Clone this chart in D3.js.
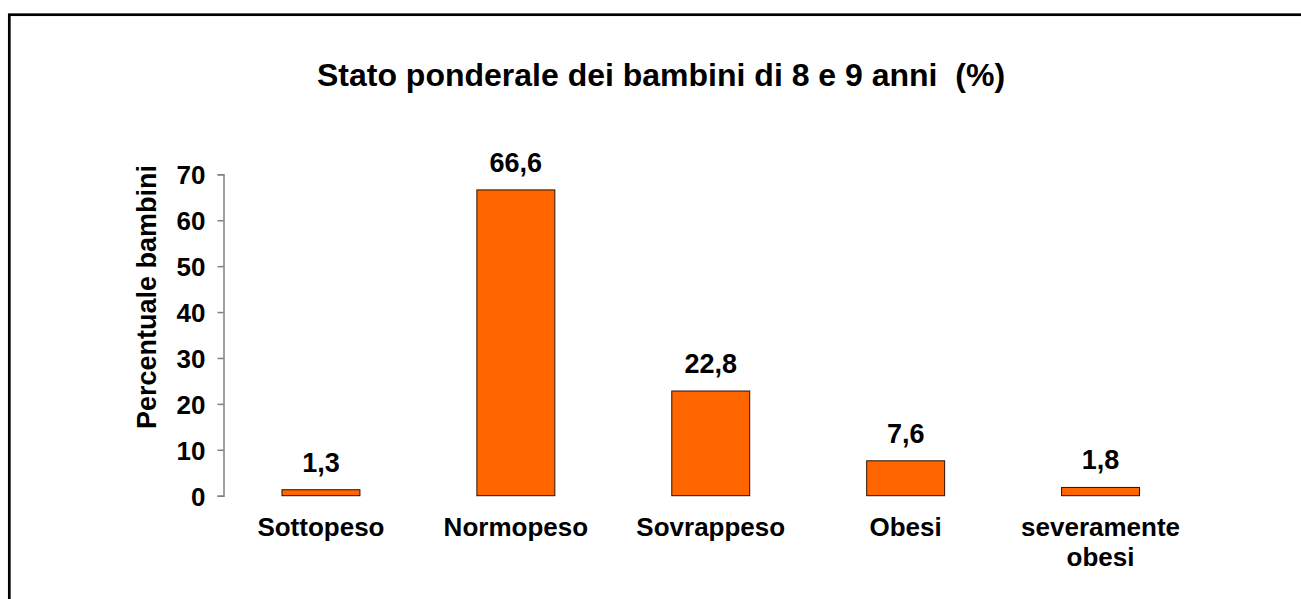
<!DOCTYPE html>
<html>
<head>
<meta charset="utf-8">
<script src="https://cdn.jsdelivr.net/npm/d3@7"></script>
<style>
  html, body { margin: 0; padding: 0; background: #fff; overflow: hidden; }
  svg { display: block; font-family: "Liberation Sans", Arial, sans-serif; }
</style>
</head>
<body>
<svg id="chart" width="1301" height="599"></svg>
<script>
const categories = ["Sottopeso", "Normopeso", "Sovrappeso", "Obesi", "severamente obesi"];
const values = [1.3, 66.6, 22.8, 7.6, 1.8];
const valueLabels = ["1,3", "66,6", "22,8", "7,6", "1,8"];
const yTicks = [0, 10, 20, 30, 40, 50, 60, 70];
const titleText = "Stato ponderale dei bambini di 8 e 9 anni  (%)";
const yAxisTitle = "Percentuale bambini";

const svg = d3.select("#chart");

// outer frame (extends beyond the visible area on right/bottom)
svg.append("rect")
  .attr("x", 9.3).attr("y", 14.7)
  .attr("width", 1400).attr("height", 700)
  .attr("fill", "none").attr("stroke", "#000").attr("stroke-width", 2.7);

const plot = { left: 223.5, right: 1198, top: 174.3, bottom: 495.7 };

const x = d3.scaleBand()
  .domain(categories)
  .range([plot.left, plot.right])
  .paddingInner(0.6)
  .paddingOuter(0.3);

const y = d3.scaleLinear().domain([0, 70]).range([plot.bottom, plot.top]);

// title
svg.append("text")
  .attr("x", 661).attr("y", 86)
  .attr("text-anchor", "middle")
  .attr("font-weight", "bold").attr("font-size", 32)
  .attr("fill", "#000")
  .attr("xml:space", "preserve")
  .style("white-space", "pre")
  .text(titleText);

// y axis
const yAxis = d3.axisLeft(y).tickValues(yTicks).tickSize(6).tickPadding(12).tickFormat(d3.format("d"));
const gy = svg.append("g").attr("transform", `translate(${plot.left},0)`).call(yAxis);
gy.select(".domain").attr("stroke", "#808080").attr("stroke-width", 1.5);
gy.selectAll(".tick line").attr("stroke", "#808080").attr("stroke-width", 1.5);
gy.selectAll(".tick text")
  .attr("font-size", 26).attr("font-weight", "bold").attr("fill", "#000")
  .attr("font-family", "Liberation Sans, Arial, sans-serif")
  .attr("dy", "0.36em");

// y axis title
svg.append("text")
  .attr("transform", `translate(156, ${(plot.top + plot.bottom) / 2 - 38}) rotate(-90)`)
  .attr("text-anchor", "middle")
  .attr("font-weight", "bold").attr("font-size", 27)
  .attr("fill", "#000")
  .text(yAxisTitle);

// bars
svg.append("g").selectAll("rect")
  .data(categories)
  .join("rect")
  .attr("x", (d) => x(d))
  .attr("width", x.bandwidth())
  .attr("y", (d, i) => y(values[i]))
  .attr("height", (d, i) => y(0) - y(values[i]))
  .attr("fill", "#FF6600")
  .attr("stroke", "#2a1200")
  .attr("stroke-width", 1);

// value labels
svg.append("g").selectAll("text")
  .data(categories)
  .join("text")
  .attr("x", (d) => x(d) + x.bandwidth() / 2)
  .attr("y", (d, i) => y(values[i]) - 18)
  .attr("text-anchor", "middle")
  .attr("font-weight", "bold").attr("font-size", 27)
  .attr("fill", "#000")
  .text((d, i) => valueLabels[i]);

// category labels (wrapped)
const wrapped = { "severamente obesi": ["severamente", "obesi"] };
const cat = svg.append("g").selectAll("text")
  .data(categories)
  .join("text")
  .attr("x", (d) => x(d) + x.bandwidth() / 2)
  .attr("y", 536)
  .attr("text-anchor", "middle")
  .attr("font-weight", "bold").attr("font-size", 26)
  .attr("fill", "#000");
cat.each(function (d) {
  const lines = wrapped[d] || [d];
  const t = d3.select(this);
  lines.forEach((ln, k) => {
    t.append("tspan")
      .attr("x", x(d) + x.bandwidth() / 2)
      .attr("dy", k === 0 ? 0 : 30)
      .text(ln);
  });
});
</script>
</body>
</html>
